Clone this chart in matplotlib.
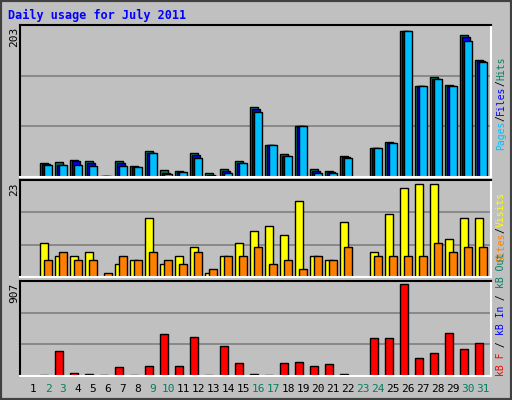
import matplotlib
matplotlib.use("Agg")
import matplotlib.pyplot as plt
from matplotlib.patches import Rectangle

# ---------------------------------------------------------
# Data
# ---------------------------------------------------------
days = list(range(1, 32))
weekend = [2, 3, 9, 10, 16, 17, 23, 24, 30, 31]

hits = [0, 19, 21, 23, 22, 1, 22, 15, 35, 10, 8, 33, 6, 11, 22, 96, 43, 31, 69, 11,
        8, 29, 0, 39, 47, 199, 124, 136, 125, 193, 160]
files = [0, 18, 17, 22, 19, 1, 19, 14, 33, 6, 7, 30, 3, 8, 19, 93, 43, 29, 69, 8,
         7, 27, 0, 39, 46, 199, 124, 133, 124, 191, 158]
pages = [0, 17, 17, 17, 15, 1, 15, 14, 33, 4, 7, 26, 2, 6, 19, 89, 43, 29, 69, 6,
         6, 26, 0, 39, 46, 199, 124, 133, 124, 185, 156]
visits = [0, 8, 5, 5, 6, 0, 3, 4, 14, 3, 5, 7, 1, 5, 8, 11, 12, 10, 18, 5,
          4, 13, 0, 6, 15, 21, 22, 22, 9, 14, 14]
sites = [0, 4, 6, 4, 4, 1, 5, 4, 6, 4, 3, 6, 2, 5, 5, 7, 3, 4, 2, 5,
         4, 7, 0, 5, 5, 5, 5, 8, 6, 7, 7]
kbytes = [0, 10, 243, 32, 22, 10, 89, 10, 99, 405, 99, 376, 10, 290, 128, 22, 10, 128, 137, 99,
          118, 22, 0, 367, 367, 880, 175, 223, 415, 262, 319]

max_top, max_mid, max_bot = 203, 23, 907

BG = "#C0C0C0"
GREEN = "#00805F"
W, H = 512, 400

fig = plt.figure(figsize=(W / 100, H / 100), dpi=100, facecolor=BG)
# outer 3D border
fig.patches.append(Rectangle((0, 0), 1, 1, transform=fig.transFigure, fill=False,
                             edgecolor="#404040", linewidth=3))

def panel(y0, y1):
    ax = fig.add_axes([20 / W, 1 - y1 / H, 471 / W, (y1 - y0) / H])
    ax.set_facecolor(BG)
    ax.set_xlim(20, 491)
    ax.set_xticks([])
    ax.set_yticks([])
    for s in ("left", "top"):
        ax.spines[s].set_color("black")
        ax.spines[s].set_linewidth(1.5)
    for s in ("right", "bottom"):
        ax.spines[s].set_color("white")
        ax.spines[s].set_linewidth(1.5)
    return ax

def xpos(d):
    return 10 + 15 * d

ax1 = panel(25, 177)
ax2 = panel(180, 277)
ax3 = panel(281, 376)

for ax, top in ((ax1, max_top * 1.02), (ax2, max_mid), (ax3, max_bot)):
    ax.set_ylim(0, top)
    for f in (1 / 3, 2 / 3):
        ax.axhline(top * f, color="#808080", linewidth=1.2, zorder=0)

kw = dict(width=8, align="edge", edgecolor="black", linewidth=1)
for d, h, f, p in zip(days, hits, files, pages):
    if h == 0:
        continue
    ax1.bar(xpos(d), h, color=GREEN, **kw)
    ax1.bar(xpos(d) + 2, f, color="#0000FF", **kw)
    ax1.bar(xpos(d) + 4, p, color="#00BFFF", **kw)

for d, v, s in zip(days, visits, sites):
    if v:
        ax2.bar(xpos(d), v, color="#FFFF00", **kw)
    if s:
        ax2.bar(xpos(d) + 4, s, color="#FF8000", **kw)

for d, k in zip(days, kbytes):
    if k:
        ax3.bar(xpos(d), k, color="#FF0000", **kw)

# title
fig.text(8 / W, 1 - 15 / H, "Daily usage for July 2011", color="#0000FF",
         fontsize=8.5, fontweight="bold", family="DejaVu Sans Mono", va="center")

# left max labels
for val, y in ((max_top, 27), (max_mid, 182), (max_bot, 283)):
    fig.text(14 / W, 1 - y / H, str(val), rotation=90, fontsize=8,
             family="DejaVu Sans Mono", ha="center", va="top")

# right multi-colour labels, read bottom to top
FS = 7
CH = 0.602 * FS * 100 / 72

def right_label(pieces, y_bottom):
    y = y_bottom
    for txt, col in pieces:
        fig.text(501 / W, 1 - y / H, txt, rotation=90, color=col, fontsize=FS,
                 family="DejaVu Sans Mono", ha="center", va="bottom")
        y -= len(txt) * CH

right_label([("Pages", "#00BFFF"), ("/", "black"), ("Files", "#0000FF"),
             ("/", "black"), ("Hits", GREEN)], 150)
right_label([("Sites", "#FF8000"), ("/", "black"), ("Visits", "#FFFF00")], 262)
right_label([("kB F", "#FF0000"), (" / ", "black"), ("kB In", "#0000FF"),
             (" / ", "black"), ("kB Out", GREEN)], 376)

# day labels
for d in days:
    fig.text((18 + 15 * d) / W, 1 - 389 / H, str(d), fontsize=8,
             family="DejaVu Sans Mono", ha="center", va="center",
             color=GREEN if d in weekend else "black")

fig.savefig("out.png", dpi=100, facecolor=BG)
